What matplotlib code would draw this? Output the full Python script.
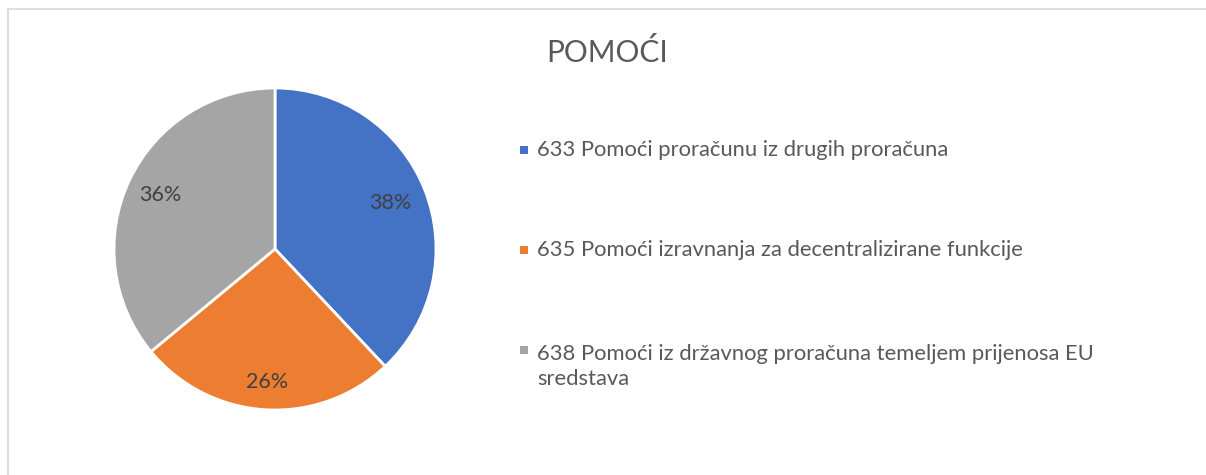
import matplotlib.pyplot as plt
from matplotlib.lines import Line2D
from matplotlib.patches import Rectangle

# data
title = "POMOĆI"
labels = ["633 Pomoći proračunu iz drugih proračuna",
          "635 Pomoći izravnanja za decentralizirane funkcije",
          "638 Pomoći iz državnog proračuna temeljem prijenosa EU\nsredstava"]
shares = [38, 26, 36]
colors = ["#4472C4", "#ED7D31", "#A5A5A5"]

W, H = 1206, 475
plt.rcParams['font.family'] = ['Lato', 'DejaVu Sans']

fig = plt.figure(figsize=(W / 100, H / 100), dpi=100)

# chart frame (only left and top visible in the crop)
fig.add_artist(Line2D([7.5 / W, 7.5 / W], [0, 1 - 8.5 / H], color="#D9D9D9", lw=1.2))
fig.add_artist(Line2D([7.5 / W, 1], [1 - 8.5 / H, 1 - 8.5 / H], color="#D9D9D9", lw=1.2))

# pie: centre (275, 249) px, radius 161 px
cx, cy, r = 275, 249, 161
ax = fig.add_axes([(cx - r) / W, (H - cy - r) / H, 2 * r / W, 2 * r / H])
wedges, texts, autotexts = ax.pie(shares, colors=colors, startangle=90, counterclock=False,
                                  radius=1, autopct="%d%%", pctdistance=0.78,
                                  wedgeprops=dict(edgecolor="white", linewidth=2),
                                  textprops=dict(color="#404040", fontsize=15.5))
# Excel "best fit" puts labels at slightly different radii
for t, d in zip(autotexts, [0.77, 0.83, 0.79]):
    x, y = t.get_position()
    t.set_position((x * d / 0.78, y * d / 0.78))
ax.set_xlim(-1, 1)
ax.set_ylim(-1, 1)
ax.set_aspect("equal")
ax.axis("off")

fig.text(607 / W, 1 - 52.5 / H, title, ha="center", va="center", fontsize=21.5, color="#595959")

# legend
rows_y = [149.5, 249.5, 349.5]
line_h = 28.5
fs = 15.85
for lab, col, y in zip(labels, colors, rows_y):
    fig.add_artist(Rectangle((520 / W, 1 - (y + 4) / H), 8 / W, 8 / H,
                             facecolor=col, edgecolor="none"))
    nl = lab.count("\n")
    fig.text(537 / W, 1 - (y + 7 + nl * line_h) / H, lab, ha="left", va="baseline",
             fontsize=fs, color="#595959", linespacing=line_h / (fs * 100 / 72))

fig.savefig("out.png", dpi=100)
